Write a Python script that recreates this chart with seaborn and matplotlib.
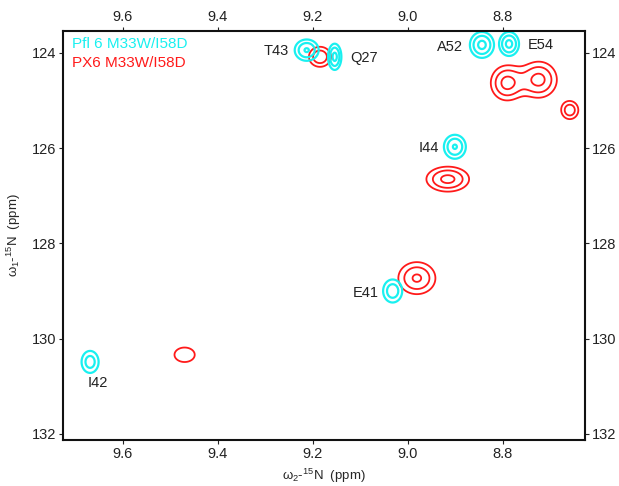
"""
1H-15N HSQC overlay: Pfl 6 M33W/I58D (cyan) vs PX6 M33W/I58D (red)
"""

import numpy as np
import matplotlib.pyplot as plt
import seaborn as sns

sns.set_theme(style="ticks")
plt.rcParams['font.family'] = ['Liberation Sans', 'DejaVu Sans']
plt.rcParams['mathtext.fontset'] = 'custom'
plt.rcParams['mathtext.rm'] = 'Liberation Sans'
plt.rcParams['mathtext.it'] = 'Liberation Sans'

# Pfl 6 M33W/I58D peaks (ppm): 1H shift, 15N shift, widths, relative height
pfl_h = [9.213, 9.154, 8.844, 8.787, 8.901, 9.032, 9.669]
pfl_n = [123.94, 124.08, 123.83, 123.81, 125.97, 129.00, 130.49]
pfl_wh = [0.018, 0.0097, 0.0175, 0.0145, 0.0165, 0.0156, 0.0145]
pfl_wn = [0.160, 0.190, 0.188, 0.174, 0.180, 0.188, 0.187]
pfl_amp = [0.93, 1.0, 1.0, 1.0, 0.93, 0.80, 0.75]

# PX6 M33W/I58D peaks
px6_h = [9.185, 8.792, 8.724, 8.659, 8.916, 8.981, 9.470]
px6_n = [124.08, 124.63, 124.56, 125.20, 126.65, 128.73, 130.34]
px6_wh = [0.0174, 0.023, 0.026, 0.0139, 0.031, 0.0276, 0.0224]
px6_wn = [0.158, 0.25, 0.26, 0.147, 0.181, 0.238, 0.160]
px6_amp = [0.85, 1.0, 1.0, 0.80, 1.0, 0.95, 0.55]

# assignments (Pfl 6)
labels = ['T43', 'Q27', 'A52', 'E54', 'I44', 'E41', 'I42']
label_h = [9.251, 9.122, 8.884, 8.747, 8.935, 9.061, 9.653]
label_n = [123.96, 124.10, 123.87, 123.83, 126.00, 129.04, 130.93]
label_ha = ['right', 'left', 'right', 'left', 'right', 'right', 'center']

levels = [0.35, 0.6, 0.9]

x_ticks = [9.6, 9.4, 9.2, 9.0, 8.8]
y_ticks = [124, 126, 128, 130, 132]


def spectrum(gx, gy, cx, cy, wx, wy, amp, combine='sum'):
    z = np.zeros_like(gx)
    for x0, y0, sx, sy, a in zip(cx, cy, wx, wy, amp):
        p = a * np.exp(-0.5 * (((gx - x0) / sx) ** 2 + ((gy - y0) / sy) ** 2))
        z = z + p if combine == 'sum' else np.maximum(z, p)
    return z


gx, gy = np.meshgrid(np.linspace(8.6, 9.75, 900), np.linspace(123.3, 132.3, 700))
# cyan peaks are well resolved -> keep each one separate
z_pfl = spectrum(gx, gy, pfl_h, pfl_n, pfl_wh, pfl_wn, pfl_amp, combine='max')
z_px6 = spectrum(gx, gy, px6_h, px6_n, px6_wh, px6_wn, px6_amp)

fig = plt.figure(figsize=(6.19, 4.86), dpi=100)
ax = fig.add_axes([0.1018, 0.0947, 0.8433, 0.8413])

ax.contour(gx, gy, z_px6, levels=levels, colors='#ff1a1a', linewidths=1.3)
ax.contour(gx, gy, z_pfl, levels=levels, colors='#19f0f0', linewidths=1.6)

for txt, lx, ly, ha in zip(labels, label_h, label_n, label_ha):
    ax.text(lx, ly, txt, ha=ha, va='center', fontsize=10.5, color='#222222')

ax.text(0.017, 0.968, 'Pfl 6 M33W/I58D', transform=ax.transAxes, color='#19f0f0',
        fontsize=11, va='center')
ax.text(0.017, 0.922, 'PX6 M33W/I58D', transform=ax.transAxes, color='#ff1a1a',
        fontsize=11, va='center')

ax.set_xlim(9.726, 8.627)
ax.set_ylim(132.13, 123.54)
ax.set_xticks(x_ticks)
ax.set_xticklabels([f'{v:.1f}' for v in x_ticks])
ax.set_yticks(y_ticks)

ax.tick_params(top=True, labeltop=True, right=True, labelright=True,
               direction='out', length=3, width=0.8, labelsize=10.5,
               colors='#222222', pad=2)
for s in ax.spines.values():
    s.set_linewidth(1.5)
    s.set_color('#111111')

ax.set_xlabel(r'$\omega_2$-$^{15}$N  (ppm)', fontsize=9.5, labelpad=4)
ax.set_ylabel(r'$\omega_1$-$^{15}$N  (ppm)', fontsize=9.5, labelpad=6)

plt.savefig('out.png', dpi=100)
